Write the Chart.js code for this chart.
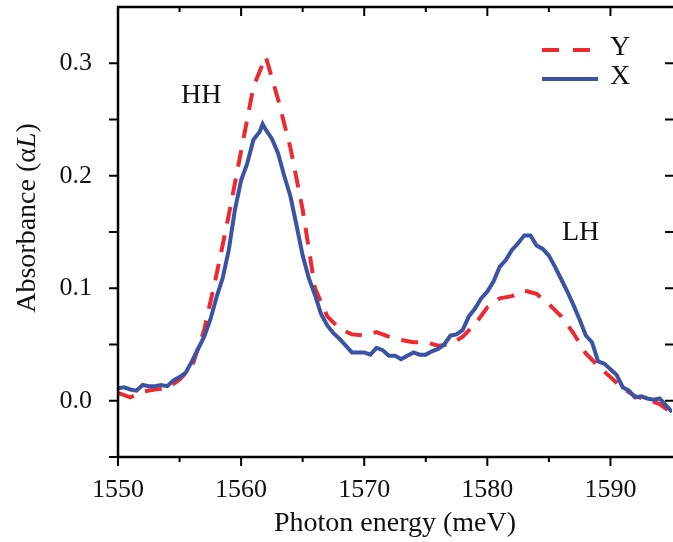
<!DOCTYPE html>
<html>
<head>
<meta charset="utf-8">
<script src="https://cdn.jsdelivr.net/npm/chart.js@4.4.1/dist/chart.umd.min.js"></script>
<style>
  html, body { margin: 0; padding: 0; background: #fff; }
  #wrap { width: 673px; height: 542px; }
</style>
</head>
<body>
<div id="wrap"><canvas id="chart" width="673" height="542"></canvas></div>
<script>
// ── Data ─────────────────────────────────────────────
// X polarisation, solid blue, sampled every 0.5 meV
const energyX = [
  1550, 1550.5, 1551, 1551.5, 1552, 1552.5, 1553, 1553.5, 1554, 1554.5,
  1555, 1555.5, 1556, 1556.5, 1557, 1557.5, 1558, 1558.5, 1559, 1559.5,
  1560, 1560.5, 1561, 1561.5, 1561.75, 1562, 1562.5, 1563, 1563.5, 1564, 1564.5,
  1565, 1565.5, 1566, 1566.5, 1567, 1567.5, 1568, 1568.5, 1569, 1569.5,
  1570, 1570.5, 1571, 1571.5, 1572, 1572.5, 1573, 1573.5, 1574, 1574.5,
  1575, 1575.5, 1576, 1576.5, 1577, 1577.5, 1578, 1578.5, 1579, 1579.5,
  1580, 1580.5, 1581, 1581.5, 1582, 1582.5, 1583, 1583.5, 1584, 1584.5,
  1585, 1585.5, 1586, 1586.5, 1587, 1587.5, 1588, 1588.5, 1589, 1589.5,
  1590, 1590.5, 1591, 1591.5, 1592, 1592.5, 1593, 1593.5, 1594, 1594.5, 1595
];
const absX = [
  0.011, 0.012, 0.010, 0.009, 0.014, 0.013, 0.013, 0.014, 0.013, 0.018,
  0.021, 0.025, 0.035, 0.046, 0.057, 0.072, 0.092, 0.109, 0.134, 0.170,
  0.196, 0.211, 0.232, 0.239, 0.246, 0.241, 0.233, 0.220, 0.200, 0.182, 0.156,
  0.129, 0.109, 0.094, 0.077, 0.067, 0.060, 0.055, 0.049, 0.043, 0.043,
  0.043, 0.041, 0.047, 0.045, 0.040, 0.040, 0.037, 0.040, 0.043, 0.041,
  0.041, 0.044, 0.046, 0.050, 0.058, 0.059, 0.063, 0.075, 0.082, 0.091,
  0.097, 0.106, 0.119, 0.125, 0.134, 0.140, 0.147, 0.147, 0.138, 0.135,
  0.129, 0.119, 0.108, 0.097, 0.085, 0.072, 0.058, 0.052, 0.035, 0.033,
  0.028, 0.023, 0.012, 0.009, 0.003, 0.004, 0.002, 0.001, 0.002, -0.004, -0.010
];

// Y polarisation, dashed red, sampled every 1 meV
const energyY = [
  1550, 1551, 1552, 1553, 1554, 1555, 1556, 1557, 1558, 1559,
  1560, 1561, 1562, 1563, 1564, 1565, 1566, 1567, 1568, 1569,
  1570, 1571, 1572, 1573, 1574, 1575, 1576, 1577, 1578, 1579,
  1580, 1581, 1582, 1583, 1584, 1585, 1586, 1587, 1588, 1589,
  1590, 1591, 1592, 1593, 1594, 1595
];
const absY = [
  0.007, 0.003, 0.008, 0.010, 0.011, 0.019, 0.030, 0.063, 0.112, 0.165,
  0.222, 0.279, 0.306, 0.268, 0.225, 0.170, 0.100, 0.075, 0.064, 0.059,
  0.058, 0.061, 0.057, 0.054, 0.052, 0.052, 0.049, 0.050, 0.057, 0.068,
  0.083, 0.091, 0.093, 0.098, 0.095, 0.086, 0.075, 0.060, 0.042, 0.031,
  0.021, 0.011, 0.004, 0.001, -0.003, -0.011
];

const xTicks      = [1550, 1560, 1570, 1580, 1590];
const xMinorTicks = [1555, 1565, 1575, 1585];
const yTicks      = [0.0, 0.1, 0.2, 0.3];
const yMinorTicks = [-0.05, 0.05, 0.15, 0.25];

const RED  = '#ee2a31';
const BLUE = '#3a53a3';
const FONT = '"Liberation Serif", "DejaVu Serif", serif';

// no automatic label padding, the plot box is fixed
function noPad(s) {
  s.paddingTop = 0; s.paddingBottom = 0;
  s.paddingLeft = 0; s.paddingRight = 0;
}

// ── Frame, ticks, labels, legend ─────────────────────
const framePlugin = {
  id: 'frame',
  afterDraw(chart) {
    const { ctx, chartArea: a, scales: { x, y } } = chart;
    ctx.save();
    ctx.strokeStyle = '#000';
    ctx.lineCap = 'butt';

    // spines: left, top, bottom
    ctx.lineWidth = 2.5;
    ctx.beginPath();
    ctx.moveTo(a.left, a.top);
    ctx.lineTo(a.left, a.bottom);
    ctx.moveTo(a.left - 1, a.top);
    ctx.lineTo(a.right + 2, a.top);
    ctx.moveTo(a.left - 1, a.bottom);
    ctx.lineTo(a.right + 2, a.bottom);
    ctx.stroke();

    ctx.lineWidth = 2;
    ctx.beginPath();
    // x ticks: outward at bottom, inward at top
    xTicks.forEach(v => {
      const px = x.getPixelForValue(v);
      ctx.moveTo(px, a.bottom); ctx.lineTo(px, a.bottom + 9);
      ctx.moveTo(px, a.top);    ctx.lineTo(px, a.top + 9);
    });
    xMinorTicks.forEach(v => {
      const px = x.getPixelForValue(v);
      ctx.moveTo(px, a.bottom); ctx.lineTo(px, a.bottom + 5);
      ctx.moveTo(px, a.top);    ctx.lineTo(px, a.top + 5);
    });
    // y ticks: outward at left, inward at right
    yTicks.concat(yMinorTicks).forEach(v => {
      const py = y.getPixelForValue(v);
      ctx.moveTo(a.left - 9, py); ctx.lineTo(a.left, py);
      ctx.moveTo(a.right + 1, py); ctx.lineTo(a.right - 7, py);
    });
    ctx.stroke();

    // y axis title with italic L
    ctx.fillStyle = '#111';
    ctx.textBaseline = 'middle';
    const parts = [
      { t: 'Absorbance (\u03B1', f: `28px ${FONT}` },
      { t: 'L', f: `italic 28px ${FONT}` },
      { t: ')', f: `28px ${FONT}` }
    ];
    let total = 0;
    parts.forEach(p => { ctx.font = p.f; p.w = ctx.measureText(p.t).width; total += p.w; });
    ctx.translate(28, 218);
    ctx.rotate(-Math.PI / 2);
    let cx = -total / 2;
    ctx.textAlign = 'left';
    parts.forEach(p => { ctx.font = p.f; ctx.fillText(p.t, cx, 0); cx += p.w; });
    ctx.restore();

    // peak labels
    ctx.save();
    ctx.fillStyle = '#111';
    ctx.font = `28px ${FONT}`;
    ctx.textBaseline = 'middle';
    ctx.textAlign = 'left';
    ctx.fillText('HH', 181, 96);
    ctx.fillText('LH', 562, 233);

    // legend
    ctx.lineWidth = 4;
    ctx.strokeStyle = RED;
    ctx.setLineDash([17, 14]);
    ctx.beginPath(); ctx.moveTo(542, 50); ctx.lineTo(592, 50); ctx.stroke();
    ctx.setLineDash([]);
    ctx.strokeStyle = BLUE;
    ctx.beginPath(); ctx.moveTo(542, 79); ctx.lineTo(598, 79); ctx.stroke();
    ctx.fillText('Y', 610, 48);
    ctx.fillText('X', 610, 77);
    ctx.restore();
  }
};

new Chart(document.getElementById('chart'), {
  type: 'line',
  data: {
    datasets: [
      {
        label: 'X',
        data: energyX.map((e, i) => ({ x: e, y: absX[i] })),
        borderColor: BLUE,
        borderWidth: 4,
        pointRadius: 0,
        tension: 0,
        order: 0
      },
      {
        label: 'Y',
        data: energyY.map((e, i) => ({ x: e, y: absY[i] })),
        borderColor: RED,
        borderWidth: 4,
        borderDash: [17, 12],
        borderCapStyle: 'butt',
        pointRadius: 0,
        tension: 0,
        order: 1
      }
    ]
  },
  options: {
    responsive: false,
    animation: false,
    devicePixelRatio: 1,
    layout: { padding: { top: 7, right: 1, left: 0, bottom: 0 } },
    plugins: { legend: { display: false }, tooltip: { enabled: false } },
    scales: {
      x: {
        type: 'linear',
        min: 1550, max: 1595,
        afterFit: s => { s.height = 85; noPad(s); },
        afterBuildTicks: s => { s.ticks = xTicks.map(v => ({ value: v })); },
        grid: { display: false },
        border: { display: false },
        ticks: {
          padding: 10,
          maxRotation: 0,
          color: '#111',
          font: { family: FONT, size: 26 },
          callback: v => String(v)
        },
        title: {
          display: true,
          text: 'Photon energy (meV)',
          color: '#111',
          font: { family: FONT, size: 28 },
          padding: { top: 0, bottom: 2 }
        }
      },
      y: {
        type: 'linear',
        min: -0.05, max: 0.35,
        afterFit: s => { s.width = 118; noPad(s); },
        afterBuildTicks: s => { s.ticks = yTicks.map(v => ({ value: v })); },
        grid: { display: false },
        border: { display: false },
        ticks: {
          padding: 18,
          color: '#111',
          font: { family: FONT, size: 26 },
          callback: v => v.toFixed(1)
        }
      }
    }
  },
  plugins: [framePlugin]
});
</script>
</body>
</html>
